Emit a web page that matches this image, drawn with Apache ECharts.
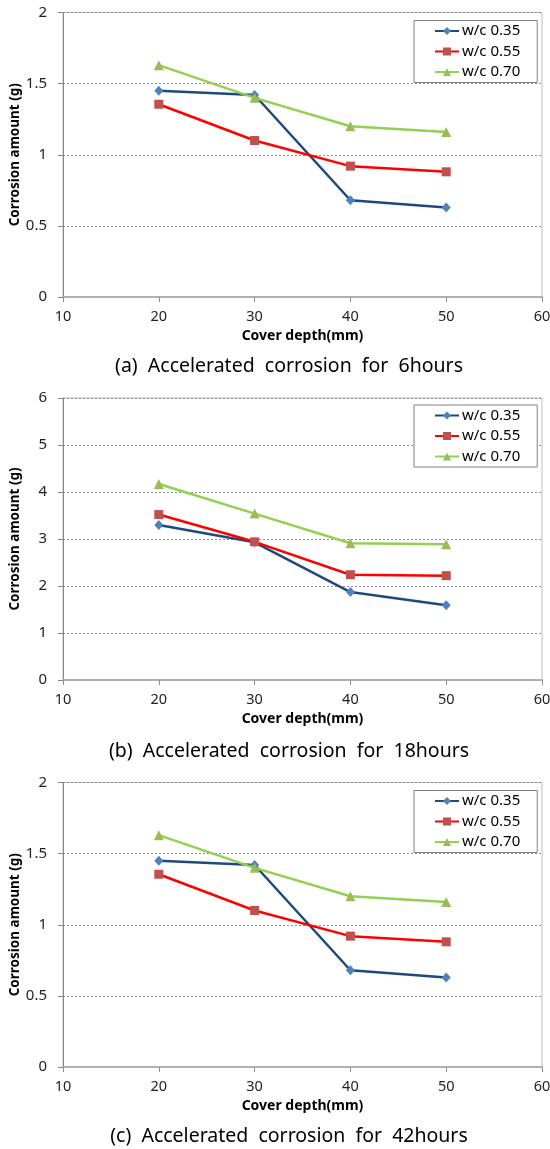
<!DOCTYPE html>
<html>
<head>
<meta charset="utf-8">
<script src="https://cdn.jsdelivr.net/npm/echarts@6/dist/echarts.min.js"></script>
<style>
html,body{margin:0;padding:0;background:#fff;}
#c{width:550px;height:1149px;}
</style>
</head>
<body>
<div id="c"></div>
<script>
// ---- data ----
var coverDepth = [20, 30, 40, 50];
var seriesNames = ['w/c 0.35', 'w/c 0.55', 'w/c 0.70'];
// (a) 6 hours
var a_wc035 = [1.45, 1.42, 0.68, 0.63];
var a_wc055 = [1.355, 1.10, 0.92, 0.88];
var a_wc070 = [1.63, 1.40, 1.20, 1.16];
// (b) 18 hours
var b_wc035 = [3.30, 2.93, 1.87, 1.59];
var b_wc055 = [3.52, 2.94, 2.24, 2.22];
var b_wc070 = [4.17, 3.54, 2.91, 2.89];
// (c) 42 hours
var c_wc035 = [1.45, 1.42, 0.68, 0.63];
var c_wc055 = [1.355, 1.10, 0.92, 0.88];
var c_wc070 = [1.63, 1.40, 1.20, 1.16];
// ticks
var xTicks = [10, 20, 30, 40, 50, 60];
var yTicksA = [0, 0.5, 1, 1.5, 2];
var yTicksB = [0, 1, 2, 3, 4, 5, 6];
var yTicksC = [0, 0.5, 1, 1.5, 2];
var captions = ['(a)  Accelerated  corrosion  for  6hours',
                '(b)  Accelerated  corrosion  for  18hours',
                '(c)  Accelerated  corrosion  for  42hours'];
var xName = 'Cover depth(mm)';
var yName = 'Corrosion amount (g)';

// ---- styling / layout ----
var FONT = "Noto Sans";
var panels = [
  {top: 12.5, height: 284.5, ticks: yTicksA, data: [a_wc035, a_wc055, a_wc070], legendTop: 20.5, capY: 366.5},
  {top: 398, height: 282, ticks: yTicksB, data: [b_wc035, b_wc055, b_wc070], legendTop: 405, capY: 751.5},
  {top: 782.5, height: 284.5, ticks: yTicksC, data: [c_wc035, c_wc055, c_wc070], legendTop: 790.5, capY: 1136.5}
];
var styles = [
  {line: '#1F497D', item: '#4F81BD', symbol: 'diamond', size: [9, 10]},
  {line: '#FF0000', item: '#C0504D', symbol: 'rect', size: 9},
  {line: '#92D050', item: '#9BBB59', symbol: 'triangle', size: 10}
];

var grids = [], xAxes = [], yAxes = [], series = [], legends = [], graphics = [];
panels.forEach(function (p, gi) {
  grids.push({left: 63, right: 8, top: p.top, height: p.height, show: true,
              containLabel: false, outerBoundsMode: 'none',
              borderColor: '#BFBFBF', borderWidth: 1, backgroundColor: 'transparent'});
  xAxes.push({
    type: 'value', gridIndex: gi,
    min: xTicks[0], max: xTicks[xTicks.length - 1], interval: xTicks[1] - xTicks[0],
    name: xName, nameLocation: 'middle', nameGap: 32, nameMoveOverlap: false,
    nameTextStyle: {fontFamily: FONT, fontSize: 14, fontWeight: 'bold', color: '#000'},
    axisLine: {show: true, onZero: false, lineStyle: {color: '#B0B0B0', width: 2}},
    axisTick: {show: true, length: 5, lineStyle: {color: '#909090'}},
    axisLabel: {fontFamily: FONT, fontSize: 14.5, color: '#222', margin: 12},
    splitLine: {show: false}
  });
  var t = p.ticks;
  yAxes.push({
    type: 'value', gridIndex: gi,
    min: t[0], max: t[t.length - 1], interval: t[1] - t[0],
    name: yName, nameLocation: 'middle', nameGap: 41, nameRotate: 90, nameMoveOverlap: false,
    nameTextStyle: {fontFamily: FONT, fontSize: 13.5, fontWeight: 'bold', color: '#000'},
    axisLine: {show: true, lineStyle: {color: '#868686', width: 1}},
    axisTick: {show: true, length: 5, lineStyle: {color: '#868686'}},
    axisLabel: {fontFamily: FONT, fontSize: 15, color: '#222', margin: 16},
    splitLine: {show: true, lineStyle: {color: '#8C8C8C', type: [2, 2], width: 1}}
  });
  p.data.forEach(function (vals, si) {
    var s = styles[si];
    series.push({
      name: seriesNames[si], type: 'line', xAxisIndex: gi, yAxisIndex: gi,
      data: coverDepth.map(function (x, i) { return [x, vals[i]]; }),
      symbol: s.symbol, symbolSize: s.size, showSymbol: true,
      lineStyle: {color: s.line, width: 2.5},
      itemStyle: {color: s.item, borderWidth: 0},
      emphasis: {disabled: true}, animation: false, z: 2 + si
    });
  });
  legends.push({
    orient: 'vertical', left: 414, top: p.legendTop,
    data: seriesNames, itemWidth: 24, itemHeight: 10, itemGap: 5.5,
    padding: [3, 17, 3, 20], borderColor: '#808080', borderWidth: 1,
    backgroundColor: '#fff',
    textStyle: {fontFamily: FONT, fontSize: 15, color: '#000', padding: [0, 0, 0, -2]},
    selectedMode: false
  });
  graphics.push({
    type: 'text', x: 289, y: p.capY,
    style: {text: captions[gi], font: "19.5px 'Noto Sans'", fill: '#000',
            align: 'center', verticalAlign: 'middle', textAlign: 'center', textVerticalAlign: 'middle'}
  });
});

var chart = echarts.init(document.getElementById('c'), null, {renderer: 'canvas'});
chart.setOption({
  animation: false,
  backgroundColor: '#fff',
  textStyle: {fontFamily: FONT},
  grid: grids, xAxis: xAxes, yAxis: yAxes, series: series,
  legend: legends, graphic: graphics
});
</script>
</body>
</html>
